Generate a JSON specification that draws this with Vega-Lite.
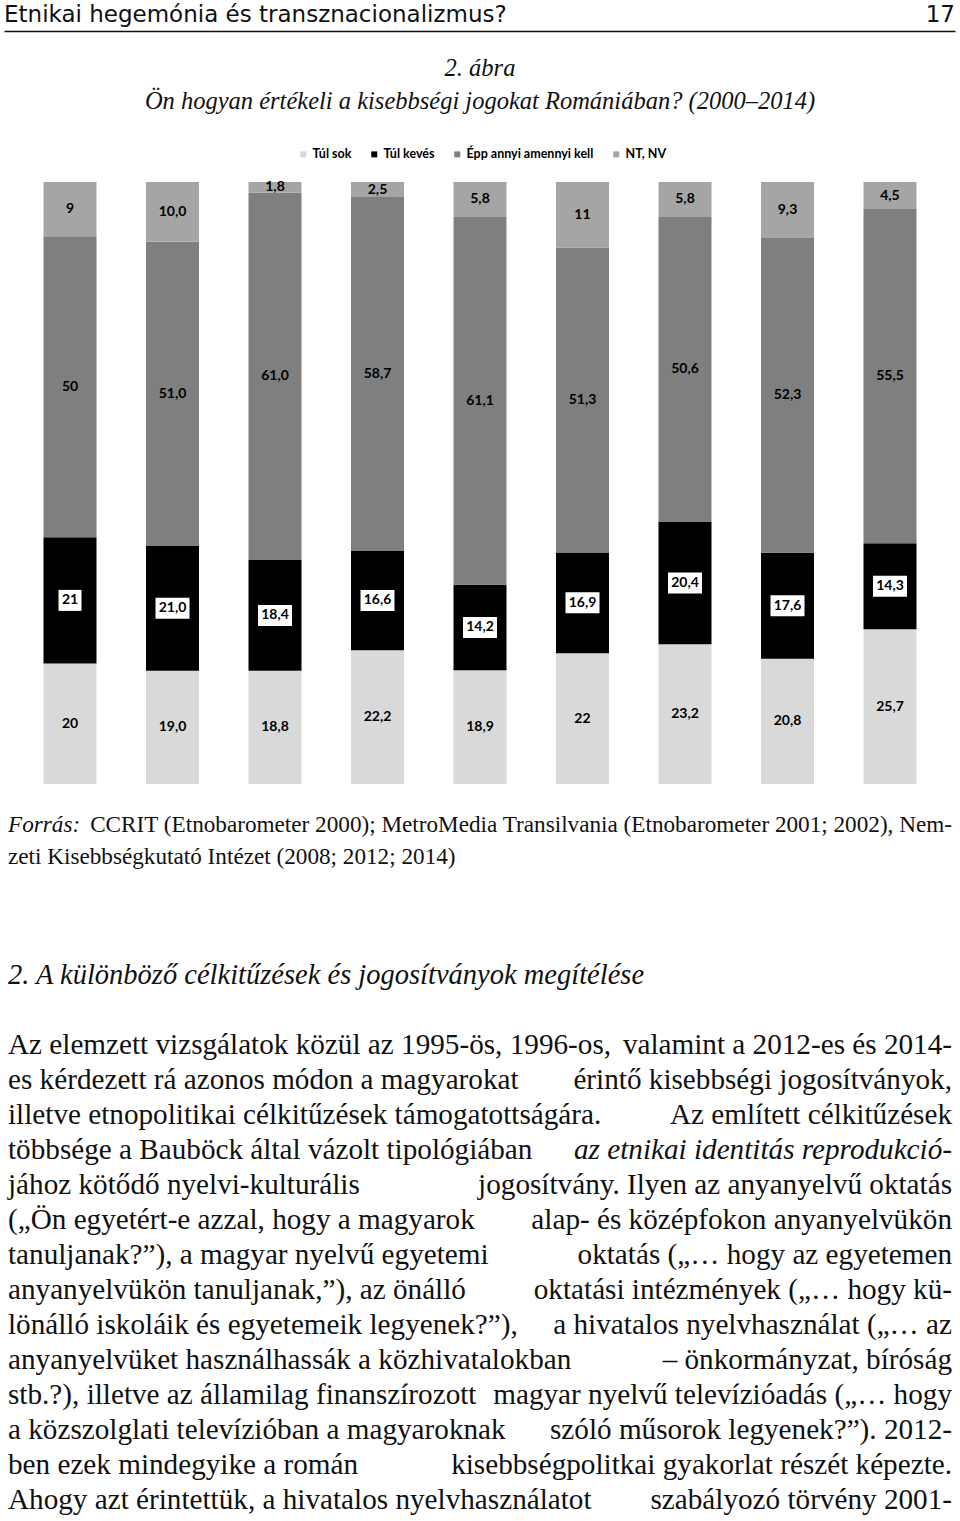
{
  "$schema": "https://vega.github.io/schema/vega-lite/v6.json",
  "padding": 0,
  "background": "white",
  "spacing": 24,
  "config": {"view": {"stroke": null}},
  "vconcat": [
    {
      "width": 960,
      "height": 31,
      "data": {"values": [
        {"text": "Etnikai hegemónia és transznacionalizmus?", "side": "left"},
        {"text": "17", "side": "right"}
      ]},
      "encoding": {
        "x": {"field": "side", "type": "nominal", "scale": {"type": "point", "domain": ["left", "right"], "range": [4, 955], "padding": 0},
              "axis": {"orient": "bottom", "labels": false, "ticks": false, "title": null, "domainColor": "#111", "domainWidth": 1.5}},
        "text": {"field": "text"}
      },
      "layer": [
        {"transform": [{"filter": "datum.side === 'left'"}],
         "mark": {"type": "text", "align": "left", "baseline": "alphabetic", "dy": 6, "font": "DejaVu Sans", "fontSize": 23, "color": "#111"}},
        {"transform": [{"filter": "datum.side === 'right'"}],
         "mark": {"type": "text", "align": "right", "baseline": "alphabetic", "dy": 6, "font": "DejaVu Sans", "fontSize": 23, "color": "#111"}}
      ]
    },
    {
      "width": 960,
      "height": 602,
      "title": {"text": ["2. ábra", "Ön hogyan értékeli a kisebbségi jogokat Romániában? (2000–2014)"],
                "font": "Liberation Serif", "fontSize": 24.5, "fontStyle": "italic", "fontWeight": "normal",
                "lineHeight": 33, "color": "#111", "anchor": "middle", "offset": 66},
      "data": {"values": [
        {"bar": 1, "cat": "Túl sok", "value": 20, "label": "20"},
        {"bar": 1, "cat": "Túl kevés", "value": 21, "label": "21"},
        {"bar": 1, "cat": "Épp annyi amennyi kell", "value": 50, "label": "50"},
        {"bar": 1, "cat": "NT, NV", "value": 9, "label": "9"},
        {"bar": 2, "cat": "Túl sok", "value": 19.0, "label": "19,0"},
        {"bar": 2, "cat": "Túl kevés", "value": 21.0, "label": "21,0"},
        {"bar": 2, "cat": "Épp annyi amennyi kell", "value": 51.0, "label": "51,0"},
        {"bar": 2, "cat": "NT, NV", "value": 10.0, "label": "10,0"},
        {"bar": 3, "cat": "Túl sok", "value": 18.8, "label": "18,8"},
        {"bar": 3, "cat": "Túl kevés", "value": 18.4, "label": "18,4"},
        {"bar": 3, "cat": "Épp annyi amennyi kell", "value": 61.0, "label": "61,0"},
        {"bar": 3, "cat": "NT, NV", "value": 1.8, "label": "1,8"},
        {"bar": 4, "cat": "Túl sok", "value": 22.2, "label": "22,2"},
        {"bar": 4, "cat": "Túl kevés", "value": 16.6, "label": "16,6"},
        {"bar": 4, "cat": "Épp annyi amennyi kell", "value": 58.7, "label": "58,7"},
        {"bar": 4, "cat": "NT, NV", "value": 2.5, "label": "2,5"},
        {"bar": 5, "cat": "Túl sok", "value": 18.9, "label": "18,9"},
        {"bar": 5, "cat": "Túl kevés", "value": 14.2, "label": "14,2"},
        {"bar": 5, "cat": "Épp annyi amennyi kell", "value": 61.1, "label": "61,1"},
        {"bar": 5, "cat": "NT, NV", "value": 5.8, "label": "5,8"},
        {"bar": 6, "cat": "Túl sok", "value": 22, "label": "22"},
        {"bar": 6, "cat": "Túl kevés", "value": 16.9, "label": "16,9"},
        {"bar": 6, "cat": "Épp annyi amennyi kell", "value": 51.3, "label": "51,3"},
        {"bar": 6, "cat": "NT, NV", "value": 11, "label": "11"},
        {"bar": 7, "cat": "Túl sok", "value": 23.2, "label": "23,2"},
        {"bar": 7, "cat": "Túl kevés", "value": 20.4, "label": "20,4"},
        {"bar": 7, "cat": "Épp annyi amennyi kell", "value": 50.6, "label": "50,6"},
        {"bar": 7, "cat": "NT, NV", "value": 5.8, "label": "5,8"},
        {"bar": 8, "cat": "Túl sok", "value": 20.8, "label": "20,8"},
        {"bar": 8, "cat": "Túl kevés", "value": 17.6, "label": "17,6"},
        {"bar": 8, "cat": "Épp annyi amennyi kell", "value": 52.3, "label": "52,3"},
        {"bar": 8, "cat": "NT, NV", "value": 9.3, "label": "9,3"},
        {"bar": 9, "cat": "Túl sok", "value": 25.7, "label": "25,7"},
        {"bar": 9, "cat": "Túl kevés", "value": 14.3, "label": "14,3"},
        {"bar": 9, "cat": "Épp annyi amennyi kell", "value": 55.5, "label": "55,5"},
        {"bar": 9, "cat": "NT, NV", "value": 4.5, "label": "4,5"}
      ]},
      "transform": [
        {"calculate": "indexof(['Túl sok', 'Túl kevés', 'Épp annyi amennyi kell', 'NT, NV'], datum.cat)", "as": "ord"},
        {"stack": "value", "groupby": ["bar"], "sort": [{"field": "ord", "order": "ascending"}], "offset": "normalize", "as": ["y0", "y1"]},
        {"calculate": "(datum.y0 + datum.y1) / 2", "as": "ymid"}
      ],
      "encoding": {
        "x": {"field": "bar", "type": "ordinal", "scale": {"type": "band", "paddingInner": 0.483, "paddingOuter": 0.4245}, "axis": null}
      },
      "layer": [
        {
          "mark": {"type": "bar"},
          "encoding": {
            "y": {"field": "y0", "type": "quantitative", "scale": {"domain": [0, 1], "nice": false, "zero": true}, "axis": null},
            "y2": {"field": "y1"},
            "color": {"field": "cat", "type": "nominal",
                      "scale": {"domain": ["Túl sok", "Túl kevés", "Épp annyi amennyi kell", "NT, NV"], "range": ["#d9d9d9", "#000000", "#7f7f7f", "#a5a5a5"]},
                      "legend": {"orient": "none", "legendX": 297, "legendY": 148, "direction": "horizontal", "columns": 4, "title": null,
                                 "symbolType": "square", "symbolSize": 36, "symbolStrokeWidth": 0,
                                 "labelFont": "Lato", "labelFontWeight": "bold", "labelFontSize": 12.5, "labelColor": "#000",
                                 "columnPadding": 16, "labelOffset": 3}}
          }
        },
        {
          "transform": [{"filter": "datum.cat === 'Túl kevés'"}],
          "mark": {"type": "point", "filled": true, "color": "white", "opacity": 1, "size": 1156, "strokeWidth": 0},
          "encoding": {
            "y": {"field": "ymid", "type": "quantitative"},
            "shape": {"condition": {"test": "length(datum.label) < 3", "value": "M-0.676,-0.618L0.676,-0.618L0.676,0.618L-0.676,0.618Z"},
                      "value": "M-1,-0.618L1,-0.618L1,0.618L-1,0.618Z"}
          }
        },
        {
          "mark": {"type": "text", "font": "Lato", "fontWeight": "bold", "fontSize": 14, "color": "#000", "baseline": "middle"},
          "encoding": {
            "y": {"field": "ymid", "type": "quantitative"},
            "text": {"field": "label"}
          }
        }
      ]
    },
    {
      "width": 960,
      "height": 64,
      "data": {"values": [
        {"line": 1, "part": "a", "em": true, "text": "Forrás:"},
        {"line": 1, "part": "b", "em": false, "text": "CCRIT (Etnobarometer 2000); MetroMedia Transilvania (Etnobarometer 2001; 2002), Nem-"},
        {"line": 2, "part": "a", "em": false, "text": "zeti Kisebbségkutató Intézet (2008; 2012; 2014)"}
      ]},
      "encoding": {
        "x": {"field": "part", "type": "nominal", "scale": {"type": "point", "domain": ["a", "b"], "range": [8, 952], "padding": 0}, "axis": null},
        "y": {"field": "line", "type": "quantitative", "scale": {"domain": [0.46875, 2.46875], "reverse": true, "nice": false, "zero": false}, "axis": null},
        "text": {"field": "text"}
      },
      "layer": [
        {"transform": [{"filter": "datum.part === 'a' && !datum.em"}],
         "mark": {"type": "text", "align": "left", "baseline": "middle", "font": "Liberation Serif", "fontSize": 23.2, "color": "#111"}},
        {"transform": [{"filter": "datum.part === 'a' && datum.em"}],
         "mark": {"type": "text", "align": "left", "baseline": "middle", "font": "Liberation Serif", "fontStyle": "italic", "fontSize": 23.2, "color": "#111"}},
        {"transform": [{"filter": "datum.part === 'b'"}],
         "mark": {"type": "text", "align": "right", "baseline": "middle", "font": "Liberation Serif", "fontSize": 23.2, "color": "#111"}}
      ]
    },
    {
      "width": 960,
      "height": 625,
      "data": {"values": [
        {"line": 0, "part": "a", "em": true, "text": "2. A különböző célkitűzések és jogosítványok megítélése"},
        {"line": 2, "part": "a", "em": false, "text": "Az elemzett vizsgálatok közül az 1995-ös, 1996-os,"},
        {"line": 2, "part": "b", "em": false, "text": "valamint a 2012-es és 2014-"},
        {"line": 3, "part": "a", "em": false, "text": "es kérdezett rá azonos módon a magyarokat"},
        {"line": 3, "part": "b", "em": false, "text": "érintő kisebbségi jogosítványok,"},
        {"line": 4, "part": "a", "em": false, "text": "illetve etnopolitikai célkitűzések támogatottságára."},
        {"line": 4, "part": "b", "em": false, "text": "Az említett célkitűzések"},
        {"line": 5, "part": "a", "em": false, "text": "többsége a Bauböck által vázolt tipológiában"},
        {"line": 5, "part": "b", "em": true, "text": "az etnikai identitás reprodukció-"},
        {"line": 6, "part": "a", "em": false, "text": "jához kötődő nyelvi-kulturális"},
        {"line": 6, "part": "b", "em": false, "text": "jogosítvány. Ilyen az anyanyelvű oktatás"},
        {"line": 7, "part": "a", "em": false, "text": "(„Ön egyetért-e azzal, hogy a magyarok"},
        {"line": 7, "part": "b", "em": false, "text": "alap- és középfokon anyanyelvükön"},
        {"line": 8, "part": "a", "em": false, "text": "tanuljanak?”), a magyar nyelvű egyetemi"},
        {"line": 8, "part": "b", "em": false, "text": "oktatás („… hogy az egyetemen"},
        {"line": 9, "part": "a", "em": false, "text": "anyanyelvükön tanuljanak,”), az önálló"},
        {"line": 9, "part": "b", "em": false, "text": "oktatási intézmények („… hogy kü-"},
        {"line": 10, "part": "a", "em": false, "text": "lönálló iskoláik és egyetemeik legyenek?”),"},
        {"line": 10, "part": "b", "em": false, "text": "a hivatalos nyelvhasználat („… az"},
        {"line": 11, "part": "a", "em": false, "text": "anyanyelvüket használhassák a közhivatalokban"},
        {"line": 11, "part": "b", "em": false, "text": "– önkormányzat, bíróság"},
        {"line": 12, "part": "a", "em": false, "text": "stb.?), illetve az államilag finanszírozott"},
        {"line": 12, "part": "b", "em": false, "text": "magyar nyelvű televízióadás („… hogy"},
        {"line": 13, "part": "a", "em": false, "text": "a közszolglati televízióban a magyaroknak"},
        {"line": 13, "part": "b", "em": false, "text": "szóló műsorok legyenek?”). 2012-"},
        {"line": 14, "part": "a", "em": false, "text": "ben ezek mindegyike a román"},
        {"line": 14, "part": "b", "em": false, "text": "kisebbségpolitkai gyakorlat részét képezte."},
        {"line": 15, "part": "a", "em": false, "text": "Ahogy azt érintettük, a hivatalos nyelvhasználatot"},
        {"line": 15, "part": "b", "em": false, "text": "szabályozó törvény 2001-"}
      ]},
      "encoding": {
        "x": {"field": "part", "type": "nominal", "scale": {"type": "point", "domain": ["a", "b"], "range": [8, 952], "padding": 0}, "axis": null},
        "y": {"field": "line", "type": "quantitative", "scale": {"domain": [-2.2571, 15.6], "reverse": true, "nice": false, "zero": false}, "axis": null},
        "text": {"field": "text"}
      },
      "layer": [
        {"transform": [{"filter": "datum.part === 'a' && !datum.em"}],
         "mark": {"type": "text", "align": "left", "baseline": "middle", "font": "Liberation Serif", "fontSize": 29.2, "color": "#111"}},
        {"transform": [{"filter": "datum.part === 'a' && datum.em"}],
         "mark": {"type": "text", "align": "left", "baseline": "middle", "font": "Liberation Serif", "fontStyle": "italic", "fontSize": 28.5, "color": "#111"}},
        {"transform": [{"filter": "datum.part === 'b' && !datum.em"}],
         "mark": {"type": "text", "align": "right", "baseline": "middle", "font": "Liberation Serif", "fontSize": 29.2, "color": "#111"}},
        {"transform": [{"filter": "datum.part === 'b' && datum.em"}],
         "mark": {"type": "text", "align": "right", "baseline": "middle", "font": "Liberation Serif", "fontStyle": "italic", "fontSize": 29.2, "color": "#111"}}
      ]
    }
  ]
}
